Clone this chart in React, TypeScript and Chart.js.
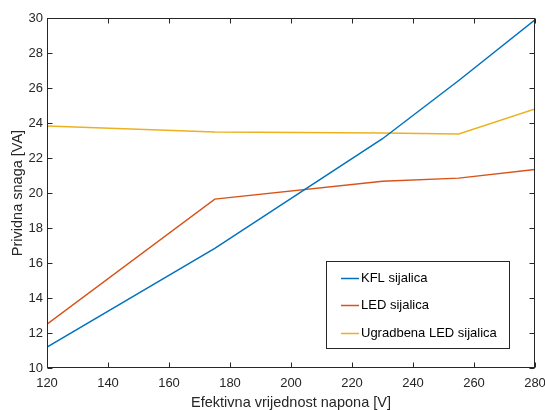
import React, { useEffect, useRef } from 'react';
import { Chart, registerables } from 'chart.js';

Chart.register(...registerables);

const voltages = [120, 175, 230, 255, 280];
const kflValues = [11.2, 16.84, 23.1, 26.43, 29.9];
const ledValues = [12.5, 19.65, 20.67, 20.85, 21.34];
const ugradbenaValues = [23.83, 23.49, 23.43, 23.37, 24.8];
const seriesLabels = ['KFL sijalica', 'LED sijalica', 'Ugradbena LED sijalica'];
const seriesColors = ['#0072BD', '#D95319', '#EDB120'];
const xTicks = [120, 140, 160, 180, 200, 220, 240, 260, 280];
const yTicks = [10, 12, 14, 16, 18, 20, 22, 24, 26, 28, 30];
const xTitle = 'Efektivna vrijednost napona [V]';
const yTitle = 'Prividna snaga [VA]';

const AXIS_COLOR = '#262626';
const FONT = '"Liberation Sans", Arial, Helvetica, sans-serif';

const matlabAxes = {
  id: 'matlabAxes',
  afterDatasetsDraw(chart: any) {
    const { ctx, chartArea: a, scales } = chart;
    ctx.save();
    ctx.strokeStyle = AXIS_COLOR;
    ctx.lineWidth = 1;
    const L = Math.round(a.left) + 0.5;
    const R = Math.round(a.right) - 0.5;
    const T = Math.round(a.top) + 0.5;
    const B = Math.round(a.bottom) - 0.5;
    ctx.strokeRect(L, T, R - L, B - T);
    const tl = 5;
    ctx.beginPath();
    xTicks.forEach((v) => {
      const px = Math.round(scales.x.getPixelForValue(v)) + 0.5;
      ctx.moveTo(px, B);
      ctx.lineTo(px, B - tl);
      ctx.moveTo(px, T);
      ctx.lineTo(px, T + tl);
    });
    yTicks.forEach((v) => {
      const py = Math.round(scales.y.getPixelForValue(v)) + 0.5;
      ctx.moveTo(L, py);
      ctx.lineTo(L + tl, py);
      ctx.moveTo(R, py);
      ctx.lineTo(R - tl, py);
    });
    ctx.stroke();

    // legend
    const w = 183;
    const h = 87;
    const lx = Math.round(a.right) - 26 - w;
    const ly = Math.round(a.bottom) - 20 - h;
    ctx.fillStyle = '#ffffff';
    ctx.fillRect(lx, ly, w, h);
    ctx.strokeStyle = AXIS_COLOR;
    ctx.strokeRect(lx + 0.5, ly + 0.5, w, h);
    const rows = [16.5, 44, 71.5];
    ctx.font = `13px ${FONT}`;
    ctx.textBaseline = 'middle';
    ctx.textAlign = 'left';
    seriesLabels.forEach((lab, i) => {
      const y = Math.round(ly + rows[i]) + 0.5;
      ctx.strokeStyle = seriesColors[i];
      ctx.lineWidth = 1.5;
      ctx.beginPath();
      ctx.moveTo(lx + 15, y);
      ctx.lineTo(lx + 33, y);
      ctx.stroke();
      ctx.fillStyle = '#000000';
      ctx.fillText(lab, lx + 35, y);
    });
    ctx.restore();
  },
};

export default function App() {
  const ref = useRef<HTMLCanvasElement | null>(null);
  useEffect(() => {
    if (!ref.current) return;
    const mk = (data: number[], i: number) => ({
      label: seriesLabels[i],
      data: voltages.map((x, k) => ({ x, y: data[k] })),
      borderColor: seriesColors[i],
      backgroundColor: seriesColors[i],
      borderWidth: 1.5,
      pointRadius: 0,
      tension: 0,
      fill: false,
    });
    const chart = new Chart(ref.current, {
      type: 'line',
      data: {
        datasets: [mk(kflValues, 0), mk(ledValues, 1), mk(ugradbenaValues, 2)],
      },
      options: {
        animation: false,
        responsive: false,
        devicePixelRatio: 1,
        layout: { padding: { top: 18, right: 10, left: 0, bottom: 0 } },
        plugins: { legend: { display: false }, tooltip: { enabled: false } },
        scales: {
          x: {
            type: 'linear',
            min: 120,
            max: 280,
            grid: { display: false, drawTicks: false },
            border: { display: false },
            afterBuildTicks: (s: any) => {
              s.ticks = xTicks.map((v) => ({ value: v }));
            },
            afterFit: (s: any) => {
              s.height = 42;
              s.paddingLeft = 0;
              s.paddingRight = 0;
            },
            ticks: {
              color: AXIS_COLOR,
              font: { family: FONT, size: 13 },
              padding: 8,
              maxRotation: 0,
              autoSkip: false,
            },
            title: {
              display: true,
              text: xTitle,
              color: AXIS_COLOR,
              font: { family: FONT, size: 14.5, lineHeight: 1.0 },
              padding: { top: 0, bottom: 0 },
            },
          },
          y: {
            type: 'linear',
            min: 10,
            max: 30,
            grid: { display: false, drawTicks: false },
            border: { display: false },
            afterBuildTicks: (s: any) => {
              s.ticks = yTicks.map((v) => ({ value: v }));
            },
            afterFit: (s: any) => {
              s.width = 47;
              s.paddingTop = 0;
              s.paddingBottom = 0;
            },
            ticks: {
              color: AXIS_COLOR,
              font: { family: FONT, size: 13 },
              padding: 4,
              autoSkip: false,
            },
            title: {
              display: true,
              text: yTitle,
              color: AXIS_COLOR,
              font: { family: FONT, size: 14.5 },
              padding: { top: 9, bottom: 0 },
            },
          },
        },
      },
      plugins: [matlabAxes],
    });
    return () => chart.destroy();
  }, []);
  return (
    <div style={{ position: 'absolute', left: 0, top: 0, width: 545, height: 410, background: '#fff' }}>
      <canvas ref={ref} width={545} height={410} style={{ width: 545, height: 410 }} />
    </div>
  );
}
